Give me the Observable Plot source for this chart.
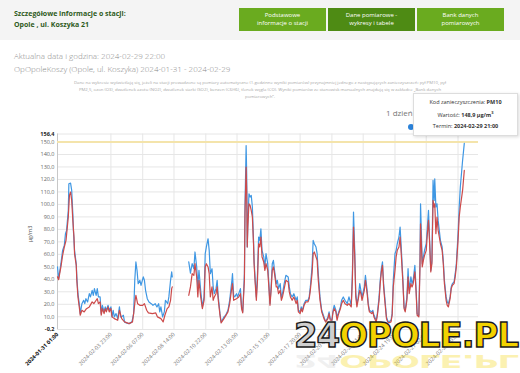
<!DOCTYPE html>
<html><head><meta charset="utf-8">
<script src="https://cdn.jsdelivr.net/npm/d3@7"></script>
<script src="https://cdn.jsdelivr.net/npm/@observablehq/plot@0.6"></script>
<style>
html,body{margin:0;padding:0;background:#fff;}
#page{position:relative;width:520px;height:373px;overflow:hidden;font-family:"Open Sans",sans-serif;}
#hdr{position:absolute;left:0;top:0;width:520px;height:40px;background:#f4f4f4;}
.st{position:absolute;left:14px;font-size:7px;font-weight:bold;color:#2f5b1c;}
.btn{position:absolute;top:8px;height:23px;width:87px;background:#6aab1f;color:#fff;font-size:6px;line-height:7.5px;text-align:center;display:flex;align-items:center;justify-content:center;}
.info{position:absolute;left:14px;font-size:8px;color:#8a8a8a;font-weight:300;}
#desc{position:absolute;left:30px;width:460px;top:79px;font-size:4.3px;line-height:7px;color:#a8a8a8;text-align:center;}
#day{position:absolute;left:386px;top:107px;font-size:8px;color:#777;}
#tip{position:absolute;left:413px;top:93px;width:103px;height:41px;background:#fff;border:1px solid #ddd;box-shadow:1px 1px 3px rgba(0,0,0,0.15);font-size:5.5px;color:#333;text-align:center;}
#tip div{position:absolute;left:0;width:103px;}
#dot{position:absolute;left:408px;top:124px;width:6px;height:6px;border-radius:3px;background:#2b82d9;}
#ylab{position:absolute;left:15px;top:230px;font-size:5.5px;color:#555;transform:rotate(-90deg);transform-origin:center;width:30px;text-align:center;}
#chart{position:absolute;left:0;top:120px;}
.logo{position:absolute;left:294px;font-family:"DejaVu Sans",sans-serif;font-weight:bold;font-size:33px;line-height:38px;height:38px;letter-spacing:-1px;white-space:nowrap;}
#logo{top:317px;-webkit-text-stroke:1.4px #1a1a1a;transform:scaleX(1.03);transform-origin:left top;}
#logo2{top:313px;transform:scaleX(1.03) scaleY(-0.55);transform-origin:left bottom;opacity:0.3;}
.g{color:#cfcfcf}.yl{color:#f2d200}
</style></head>
<body><div id="page">
<div id="hdr"></div>
<div class="st" style="top:9px">Szczegółowe informacje o stacji:</div>
<div class="st" style="top:20px">Opole , ul. Koszyka 21</div>
<div class="btn" style="left:239px">Podstawowe<br>informacje o stacji</div>
<div class="btn" style="left:328px;background:#4e8b14">Dane pomiarowe -<br>wykresy i tabele</div>
<div class="btn" style="left:417px">Bank danych<br>pomiarowych</div>
<div class="info" style="top:50px">Aktualna data i godzina: 2024-02-29 22:00</div>
<div class="info" style="top:63px">OpOpoleKoszy (Opole, ul. Koszyka) 2024-01-31 - 2024-02-29</div>
<div id="desc">Dane na wykresie wyświetlają się, jeżeli na stacji prowadzone są pomiary automatyczne (1-godzinne wyniki pomiarów) przynajmniej jednego z następujących zanieczyszczeń: pył PM10, pył<br>PM2,5, ozon (O3), dwutlenek azotu (NO2), dwutlenek siarki (SO2), benzen (C6H6), tlenek węgla (CO). Wyniki pomiarów ze stanowisk manualnych znajdują się w zakładce „Bank danych<br>pomiarowych”.</div>
<div id="day">1 dzień</div>
<div id="chart"></div>
<div id="ylab">µg/m3</div>
<div id="dot"></div>
<div id="tip">
<div style="top:4px">Kod zanieczyszczenia: <b>PM10</b></div>
<div style="top:16px">Wartość: <b>148,9 µg/m<sup style="font-size:4px">3</sup></b></div>
<div style="top:28px">Termin: <b>2024-02-29 21:00</b></div>
</div>
<div id="logo2" class="logo"><span class="g">24</span><span class="yl">OPOLE.PL</span></div>
<div id="logo" class="logo"><span class="g">24</span><span class="yl">OPOLE.PL</span></div>
</div>
<script>
const startTime = "2024-01-31T01:00Z";
const endHour = 741;
const xTickLabels = ["2024-01-31 01:00","2024-02-03 23:00","2024-02-06 07:00","2024-02-08 14:00","2024-02-10 22:00","2024-02-13 05:00","2024-02-15 13:00","2024-02-17 20:00","2024-02-20 04:00","2024-02-22 11:00","2024-02-24 19:00","2024-02-27 02:00","2024-02-29 10:00"];
const yTicks = [-0.2,10,20,30,40,50,60,70,80,90,100,110,120,130,140,150,156.4];
const limitValue = 150;
const seriesNames = ["PM10","PM2.5"];

const pm10Hours = [0,2,6,9,12,14,16,19,20,23,25,27,28,30,33,34,36,39,40,43,46,48,50,53,56,58,61,63,65,68,70,72,75,77,79,82,84,86,89,91,94,96,98,100,103,106,109,111,113,116,118,121,126,131,134,136,138,140,142,145,147,151,153,155,158,161,165,168,172,175,178,180,182,185,188,190,194,196,199,201,202,215,231,234,237,240,242,245,247,249,252,255,258,260,262,265,267,269,272,274,276,279,281,283,286,288,290,293,296,300,303,307,308,310,312,315,317,319,322,324,326,329,330,332,333,334,335,337,339,341,343,345,346,348,350,352,354,356,358,360,363,365,367,370,372,374,376,378,380,382,385,387,389,392,394,396,399,402,406,408,410,413,416,420,422,424,427,429,431,434,437,441,443,445,448,450,452,455,457,459,462,465,469,472,476,478,480,483,485,487,490,492,494,498,500,503,506,510,513,517,519,521,523,525,527,529,532,534,536,540,542,545,547,549,553,555,557,561,563,566,568,570,572,574,576,579,581,583,587,589,591,594,596,598,601,603,605,608,610,612,615,617,619,622,624,626,629,631,633,636,638,639,642,644,646,649,651,653,655,657,659,661,663,664,666,668,670,672,674,677,679,681,684,686,688,691,693,695,698,700,702,705,707,709,713,716];
const pm10 = [50,40.5,52.5,63.2,67.2,76.5,79.2,95.2,116.5,117,111.2,92.5,79.2,63.2,52.5,41.9,28.5,17.9,12.5,20.5,23.2,20.5,24.5,21.9,28.5,25.9,31.2,27.2,32.5,27.2,32.5,25.9,25.9,12.5,19.2,13.9,17.9,15.2,19.2,15.2,17.9,9.9,15.2,9.9,12.5,8.5,17.9,9.9,9.9,11.2,5.9,5.1,4.5,5.9,12.5,39.2,53.9,47.2,36.5,39.2,35.2,41.9,39.2,31.2,24.5,21.9,20.5,19.2,20.5,17.9,20.5,13.9,17.9,9.9,13.9,23.2,20.5,25.9,39.2,45.9,41.9,null,54,45,52.5,48.5,61.9,49.9,33.9,47.2,31.2,17.9,25.9,60.5,65.9,72.5,63.2,44.5,48.5,33.9,28.5,32.5,39.2,25.9,12.5,5.9,7.2,9.9,11.2,15.2,23.2,39.2,44.5,27.2,25.9,28.5,25.9,28.5,32.5,17.9,13.9,44.5,97.9,147.2,124.5,65.9,84.5,108.5,105.9,107.2,97.9,71.2,55.2,39.2,25.9,44.5,73.9,71.2,80.5,63.2,57.9,49.9,60.5,52.5,36.5,20.5,33.9,52.5,55.2,47.2,36.5,39.2,32.5,36.5,25.9,28.5,36.5,43.2,41.9,33.9,28.5,25.9,28.5,23.2,25.9,15.2,13.9,17.9,15.2,20.5,23.2,23.2,25.9,33.9,49.9,71.2,68.5,65.9,60.5,44.5,25.9,15.2,9.9,5.9,9.9,13.9,8.5,7.2,15.2,19.2,15.2,9.9,12.5,17.9,23.2,25.9,23.2,20.5,25.9,19.2,44.5,93.9,65.9,28.5,20.5,24.5,36.5,31.2,25.9,33.9,43.2,31.2,20.5,15.2,13.9,15.2,11.2,7.2,12.5,25.9,39.2,48.5,53.9,36.5,25.9,9.9,7.2,5.9,7.2,12.5,39.2,60.5,63.2,68.5,73.9,81.9,65.9,39.2,17.9,15.2,25.9,48.5,31.2,41.9,36.5,39.2,51.2,33.9,12.5,11.2,55.2,100.5,52.5,57.9,63.2,68.5,81.9,95.2,71.2,47.2,55.2,119.2,103.2,120.5,97.9,100.5,87.2,79.2,71.2,65.9,55.2,39.2,25.9,21.9,20.5,25.9,33.9,36.5,37.9,44.5,52.5,76.5,97.9,113.9,135.2,148.9];

const pm25Hours = [0,2,6,9,12,15,19,21,23,25,27,29,30,33,34,36,39,40,43,47,51,56,61,64,68,70,72,75,77,79,82,84,86,89,91,94,96,100,106,109,113,118,126,132,134,137,138,141,145,150,153,157,160,167,173,176,182,186,189,193,196,199,201,202,215,231,234,237,240,242,245,247,249,252,255,258,260,262,265,267,269,272,274,276,279,281,283,286,288,293,300,303,307,308,310,315,319,322,324,326,329,330,332,333,334,335,337,339,341,343,345,346,348,350,352,354,356,358,360,363,365,367,370,372,374,376,378,380,382,385,387,389,392,394,396,399,402,406,408,410,413,416,420,422,424,427,429,431,434,437,441,443,445,448,450,452,455,457,459,462,465,469,472,476,478,480,483,485,487,490,492,494,498,500,503,506,510,513,517,519,521,523,525,527,529,532,534,536,540,542,545,547,549,553,555,557,561,563,566,568,570,572,574,576,579,581,583,587,589,591,594,596,598,601,603,605,608,610,612,615,617,619,622,624,626,629,631,633,636,638,639,642,644,646,649,651,653,655,657,659,661,663,664,666,668,670,672,674,677,679,681,684,686,688,691,693,695,698,700,702,705,707,709,713,716];
const pm25 = [42,39.7,49.9,59.2,65.9,71.2,89.9,107.2,109.9,103.2,87.2,73.9,60.5,51.2,39.2,25.9,15.2,11.2,15.2,13.9,16.5,17.9,21.9,20.5,23.2,24.5,20.5,21.9,11.2,16.5,12.5,16.5,13.9,17.9,13.9,16.5,9.9,8.5,7.2,15.2,8.5,5.9,4.5,5.9,12.5,24.5,27.2,20.5,19.2,19.2,20.5,15.2,13.1,12.5,13.1,9.9,8.5,5.9,11.2,16.5,17.9,23.2,32.5,33.9,null,27.2,33.9,44.5,43.2,52.5,41.9,25.9,39.2,25.9,16.5,23.2,49.9,52.5,49.9,44.5,25.9,33.9,23.2,25.9,28.5,33.9,23.2,11.2,5.1,8.5,13.9,20.5,33.9,36.5,23.2,24.5,25.9,28.5,16.5,13.1,39.2,92.5,129.9,111.2,65.9,81.9,100.5,99.2,95.2,89.9,68.5,52.5,36.5,23.2,39.2,68.5,65.9,73.9,57.9,53.9,47.2,52.5,47.2,33.9,19.2,31.2,47.2,49.9,44.5,33.9,33.9,28.5,31.2,23.2,25.9,32.5,39.2,37.9,29.9,25.9,23.2,25.9,20.5,23.2,13.9,12.5,16.5,13.9,19.2,21.9,21.9,24.5,31.2,44.5,60.5,61.9,57.9,55.2,39.2,23.2,13.9,8.5,5.9,8.5,12.5,7.2,7.2,13.9,16.5,13.9,7.2,11.2,16.5,20.5,23.2,20.5,19.2,20.5,17.9,39.2,81.9,60.5,25.9,17.9,23.2,31.2,28.5,23.2,31.2,39.2,28.5,19.2,13.9,12.5,13.9,9.9,5.9,11.2,23.2,36.5,45.9,51.2,33.9,23.2,8.5,5.9,5.1,5.9,11.2,33.9,47.2,57.9,63.2,65.9,73.9,60.5,36.5,16.5,13.9,23.2,41.9,28.5,36.5,33.9,36.5,45.9,31.2,11.2,9.9,49.9,84.5,49.9,55.2,59.2,63.2,76.5,87.2,68.5,45.9,52.5,103.2,97.9,100.5,76.5,89.9,79.2,73.9,68.5,63.2,52.5,36.5,23.2,19.2,17.9,24.5,32.5,35.2,36.5,41.9,49.9,71.2,89.9,97.9,111.2,127.2];

const t0 = new Date(startTime).getTime();
const toDate = h => new Date(t0 + h * 3600e3);
const parseTick = d3.utcParse("%Y-%m-%d %H:%M");
const tickDates = xTickLabels.map(parseTick);
const fmtTick = d3.utcFormat("%Y-%m-%d %H:%M");

const rows = [];
pm10Hours.forEach((h, i) => rows.push({t: toDate(h), v: pm10[i], s: seriesNames[0]}));
pm25Hours.forEach((h, i) => rows.push({t: toDate(h), v: pm25[i], s: seriesNames[1]}));

const fmtY = d => d.toFixed(1).replace(".", ",");
const yMid = yTicks.slice(1, -1);
const yEnds = [yTicks[0], yTicks[yTicks.length - 1]];

const chart = Plot.plot({
  width: 520, height: 253,
  marginLeft: 57, marginRight: 42, marginTop: 13.5, marginBottom: 44,
  style: {fontFamily: "Open Sans, sans-serif", background: "transparent"},
  x: {type: "utc", domain: [toDate(0), toDate(endHour)]},
  y: {domain: [yTicks[0], yTicks[yTicks.length - 1]]},
  color: {domain: seriesNames, range: ["#3f97e3", "#cc4a4a"]},
  marks: [
    Plot.gridY(yTicks, {stroke: "#e6e6e6", strokeOpacity: 1}),
    Plot.gridX(tickDates, {stroke: "#e6e6e6", strokeOpacity: 1}),
    Plot.ruleX([toDate(0)], {stroke: "#c8c8c8"}),
    Plot.ruleY([limitValue], {stroke: "#f4e4ab", strokeWidth: 2}),
    Plot.lineY(rows, {x: "t", y: "v", z: "s", stroke: "s", strokeWidth: 1.2, curve: "linear"}),
    Plot.axisY(yMid, {tickFormat: fmtY, tickSize: 0, tickPadding: 3, fontSize: 5.5, fill: "#666", label: null}),
    Plot.axisY(yEnds, {tickFormat: fmtY, tickSize: 0, tickPadding: 3, fontSize: 5.5, fill: "#222", fontWeight: "bold", label: null}),
    Plot.axisX(tickDates.slice(1), {tickFormat: fmtTick, tickRotate: -45, tickSize: 0, tickPadding: 4, fontSize: 5.5, fill: "#777", label: null, textAnchor: "end"}),
    Plot.axisX(tickDates.slice(0, 1), {tickFormat: fmtTick, tickRotate: -45, tickSize: 0, tickPadding: 4, fontSize: 5.5, fill: "#111", fontWeight: "bold", label: null, textAnchor: "end"})
  ]
});
document.getElementById("chart").appendChild(chart);
</script>
</body></html>
